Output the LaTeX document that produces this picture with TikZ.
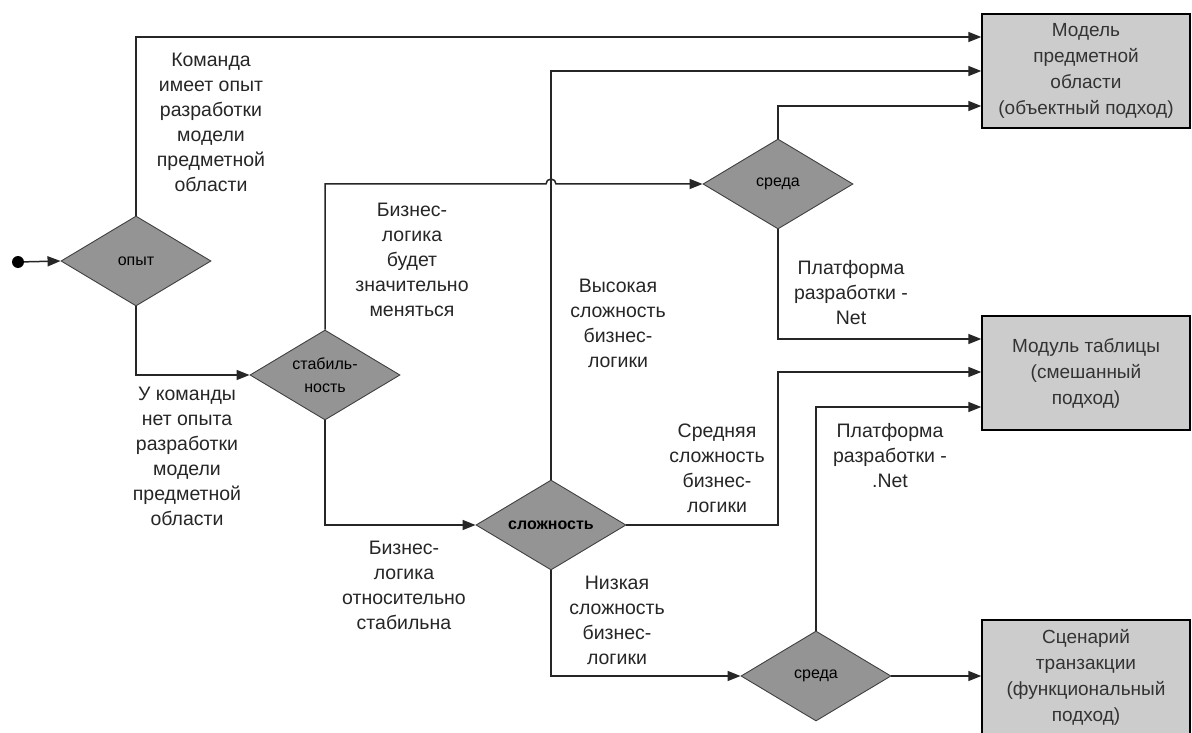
\documentclass[tikz,border=0pt]{standalone}
\usepackage{fontspec}
\setmainfont{Liberation Sans}
\usetikzlibrary{shapes.geometric,arrows.meta,calc}
\tikzset{
  dec/.style={diamond, aspect=1.67, draw=black!75, line width=0.9pt, fill=black!42, inner sep=0pt,
    minimum width=150pt, minimum height=90pt, align=center,
    font=\fontsize{16}{23}\selectfont},
  resbox/.style={rectangle, draw=black, line width=1.4pt, fill=black!20, minimum width=208pt,
    minimum height=114pt, align=center, inner sep=2pt, text=black!80,
    font=\fontsize{19}{26}\selectfont},
  lbl/.style={align=center, inner sep=0pt, text=black!85, font=\fontsize{19.5}{25}\selectfont},
  conn/.style={line width=1.5pt, draw=black!85},
  arr/.style={conn, -{Triangle[length=13pt,width=10pt]}},
}
\begin{document}
\begin{tikzpicture}[x=1pt,y=-1pt]
\useasboundingbox[fill=white] (0,0) rectangle (1192,733);
% nodes
\node[circle, fill=black, minimum size=12pt, inner sep=0pt] (start) at (18,262) {};
\node[dec] (opyt) at (136,261) {опыт};
\node[dec] (stab) at (325,375) {стабиль-\\ность};
\node[dec] (slozh) at (551,525) {\bfseries сложность};
\node[dec] (sreda1) at (778,184) {среда};
\node[dec] (sreda2) at (816,676) {среда};
\node[resbox] (box1) at (1086,71) {Модель\\предметной\\области\\(объектный подход)};
\node[resbox] (box2) at (1086,373) {Модуль таблицы\\(смешанный\\подход)};
\node[resbox] (box3) at (1086,677) {Сценарий\\транзакции\\(функциональный\\подход)};
\coordinate (j1) at (546,184);
% connectors
\draw[arr] (start) -- (opyt.west);
\draw[arr] (opyt.north) |- ([yshift=34pt]box1.west);
\draw[arr] (slozh.north) |- (box1.west);
\draw[arr] (sreda1.north) |- ([yshift=-35pt]box1.west);
\draw[arr] (opyt.south) |- (stab.west);
\draw[arr] (stab.north) |- (j1) arc[start angle=180, end angle=0, radius=5pt] -- (sreda1.west);
\draw[arr] (stab.south) |- (slozh.west);
\draw[arr] (slozh.east) -- (slozh.east -| sreda1.south) |- ([yshift=1pt]box2.west);
\draw[arr] (sreda1.south) |- ([yshift=34pt]box2.west);
\draw[arr] (slozh.south) |- (sreda2.west);
\draw[arr] (sreda2.north) |- ([yshift=-34pt]box2.west);
\draw[arr] (sreda2.east) -- (sreda2.east -| box3.west);
% labels
\node[lbl] (l1) at (211,122) {Команда\\имеет опыт\\разработки\\модели\\предметной\\области};
\node[lbl] (l2) at (187,456) {У команды\\нет опыта\\разработки\\модели\\предметной\\области};
\node[lbl] (l3) at (412,260) {Бизнес-\\логика\\будет\\значительно\\меняться};
\node[lbl] (l4) at (404,585) {Бизнес-\\логика\\относительно\\стабильна};
\node[lbl] (l5) at (618,323) {Высокая\\сложность\\бизнес-\\логики};
\node[lbl] (l6) at (851,293) {Платформа\\разработки -\\Net};
\node[lbl] (l7) at (717,468) {Средняя\\сложность\\бизнес-\\логики};
\node[lbl] (l8) at (890,456) {Платформа\\разработки -\\.Net};
\node[lbl] (l9) at (617,620) {Низкая\\сложность\\бизнес-\\логики};
\end{tikzpicture}
\end{document}
